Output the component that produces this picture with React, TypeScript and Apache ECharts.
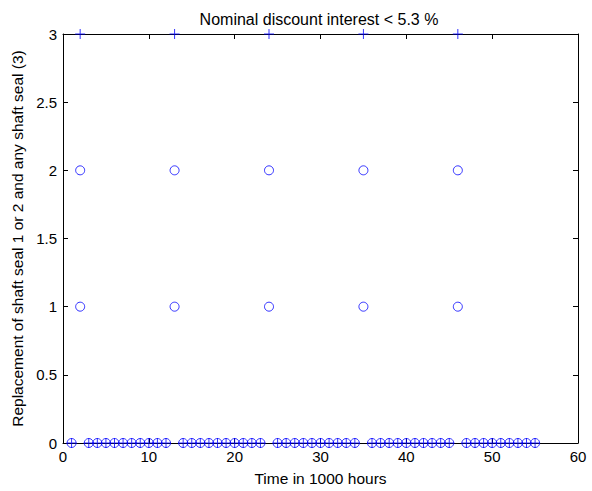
import React, { useEffect, useRef } from "react";
import * as echarts from "echarts";

const title = "Nominal discount interest < 5.3 %";
const xLabel = "Time in 1000 hours";
const yLabel = "Replacement of shaft seal 1 or 2 and any shaft seal (3)";

const xTicks = [0, 10, 20, 30, 40, 50, 60];
const yTicks = [0, 0.5, 1, 1.5, 2, 2.5, 3];

// times (1000 h) with no replacement
const noReplacementTimes = [
  1, 3, 4, 5, 6, 7, 8, 9, 10, 11, 12,
  14, 15, 16, 17, 18, 19, 20, 21, 22, 23,
  25, 26, 27, 28, 29, 30, 31, 32, 33, 34,
  36, 37, 38, 39, 40, 41, 42, 43, 44, 45,
  47, 48, 49, 50, 51, 52, 53, 54, 55,
];
// replacement times
const replacementTimes = [2, 13, 24, 35, 46];
const seal1Values = [1, 1, 1, 1, 1];
const seal2Values = [2, 2, 2, 2, 2];
const anySealValues = [3, 3, 3, 3, 3];

const BLUE = "#0000ff";
const PLUS = "path://M4.5,0 L5.5,0 L5.5,10 L4.5,10 Z M0,4.5 L10,4.5 L10,5.5 L0,5.5 Z";
const FONT = "Liberation Sans, Arial, sans-serif";

export default function App() {
  const ref = useRef<HTMLDivElement>(null);
  useEffect(() => {
    if (!ref.current) return;
    const chart = echarts.init(ref.current, null, { renderer: "svg" });
    const zeroPts = noReplacementTimes.map((t) => [t, 0]);
    const circlePts = [
      ...zeroPts,
      ...replacementTimes.map((t, i) => [t, seal1Values[i]]),
      ...replacementTimes.map((t, i) => [t, seal2Values[i]]),
    ];
    const plusPts = [
      ...zeroPts,
      ...replacementTimes.map((t, i) => [t, anySealValues[i]]),
    ];
    const axisLine = { show: true, onZero: false, lineStyle: { color: "#000", width: 1 } };
    const tick = { show: true, inside: true, length: 5, lineStyle: { color: "#000" } };
    const label = { color: "#000", fontSize: 15, fontFamily: FONT };
    chart.setOption({
      animation: false,
      backgroundColor: "#fff",
      title: {
        text: title,
        left: 314,
        top: 6,
        textAlign: "center",
        textStyle: { fontSize: 16, fontWeight: "normal", color: "#000", fontFamily: FONT },
      },
      grid: { left: 63, right: 14, top: 34, bottom: 45 },
      xAxis: [
        {
          type: "value",
          min: 0,
          max: 60,
          interval: 10,
          position: "bottom",
          axisLine,
          axisTick: tick,
          axisLabel: { ...label, margin: 6, formatter: (v: number) => (xTicks.includes(v) ? String(v) : "") },
          splitLine: { show: false },
          name: xLabel,
          nameLocation: "middle",
          nameGap: 27,
          nameTextStyle: { color: "#000", fontSize: 15.5, fontFamily: FONT },
        },
        {
          type: "value",
          min: 0,
          max: 60,
          interval: 10,
          position: "top",
          axisLine,
          axisTick: tick,
          axisLabel: { show: false },
          splitLine: { show: false },
        },
      ],
      yAxis: [
        {
          type: "value",
          min: 0,
          max: 3,
          interval: 0.5,
          position: "left",
          axisLine,
          axisTick: tick,
          axisLabel: { ...label, margin: 6, formatter: (v: number) => (yTicks.includes(v) ? String(v) : "") },
          splitLine: { show: false },
          name: yLabel,
          nameLocation: "middle",
          nameGap: 38,
          nameTextStyle: { color: "#000", fontSize: 15.5, fontFamily: FONT },
        },
        {
          type: "value",
          min: 0,
          max: 3,
          interval: 0.5,
          position: "right",
          axisLine,
          axisTick: tick,
          axisLabel: { show: false },
          splitLine: { show: false },
        },
      ],
      series: [
        {
          type: "scatter",
          data: circlePts,
          symbol: "circle",
          symbolSize: 9,
          clip: false,
          itemStyle: { color: "transparent", borderColor: BLUE, borderWidth: 1 },
          z: 3,
        },
        {
          type: "scatter",
          data: plusPts,
          symbol: PLUS,
          symbolSize: 10,
          clip: false,
          itemStyle: { color: BLUE, borderWidth: 0 },
          z: 4,
        },
      ],
    });
    return () => chart.dispose();
  }, []);
  return (
    <div
      ref={ref}
      style={{ position: "fixed", left: 0, top: 0, width: 592, height: 491, background: "#fff" }}
    />
  );
}
